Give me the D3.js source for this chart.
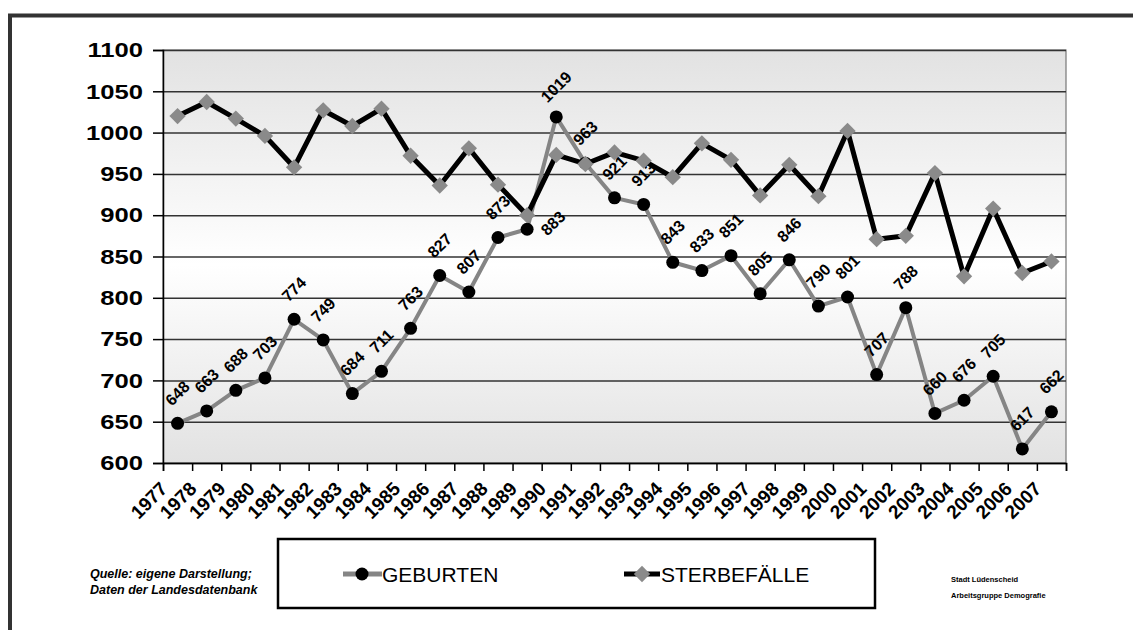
<!DOCTYPE html>
<html>
<head>
<meta charset="utf-8">
<script src="https://cdn.jsdelivr.net/npm/d3@7"></script>
<style>
  html, body { margin: 0; padding: 0; background: #fff; }
  svg { display: block; font-family: "Liberation Sans", Arial, sans-serif; }
</style>
</head>
<body>
<svg id="chart" width="1133" height="630"></svg>
<script>
// ---- data ----
const years = ["1977","1978","1979","1980","1981","1982","1983","1984","1985","1986","1987","1988","1989","1990","1991","1992","1993","1994","1995","1996","1997","1998","1999","2000","2001","2002","2003","2004","2005","2006","2007"];
const geburten = [648,663,688,703,774,749,684,711,763,827,807,873,883,1019,963,921,913,843,833,851,805,846,790,801,707,788,660,676,705,617,662];
const sterbefaelle = [1020,1037,1017,996,958,1027,1008,1029,972,936,981,937,900,973,962,976,966,946,987,967,924,961,923,1002,871,875,951,826,908,830,844];
const yTicks = [600,650,700,750,800,850,900,950,1000,1050,1100];
const seriesNames = ["GEBURTEN","STERBEFÄLLE"];
const sourceLines = ["Quelle: eigene Darstellung;","Daten der Landesdatenbank"];
const authorLines = ["Stadt Lüdenscheid","Arbeitsgruppe Demografie"];

// ---- layout ----
const svg = d3.select("#chart");
const L = 163, R = 1066, T = 50, B = 463;

// outer frame
svg.append("path").attr("d", "M10,640 L10,15.5 L1140,15.5")
  .attr("fill","none").attr("stroke","#333").attr("stroke-width",4);

const defs = svg.append("defs");
const grad = defs.append("linearGradient").attr("id","bg").attr("x1",0).attr("y1",0).attr("x2",0).attr("y2",1);
grad.append("stop").attr("offset","0%").attr("stop-color","#e2e2e2");
grad.append("stop").attr("offset","52%").attr("stop-color","#ffffff");
grad.append("stop").attr("offset","100%").attr("stop-color","#e2e2e2");

const x = d3.scaleBand().domain(years).range([L, R]);
const bw = x.bandwidth();
const cx = d => x(d) + bw / 2;
const y = d3.scaleLinear().domain([600, 1100]).range([B, T]);
const xb = d3.scaleLinear().domain([0, years.length]).range([L, R]);

svg.append("rect").attr("x", L).attr("y", T).attr("width", R - L).attr("height", B - T)
  .attr("fill", "url(#bg)").attr("stroke", "#777").attr("stroke-width", 1.2);

// gridlines
const grid = svg.append("g").attr("transform", `translate(${L},0)`)
  .call(d3.axisLeft(y).tickValues(yTicks).tickSize(-(R - L)).tickFormat(""));
grid.select(".domain").remove();
grid.selectAll("line").attr("stroke", "#333").attr("stroke-width", 1.5);

// y axis
const yAxis = svg.append("g").attr("transform", `translate(${L},0)`)
  .call(d3.axisLeft(y).tickValues(yTicks).tickSize(10).tickPadding(10).tickFormat(d3.format("d")));
yAxis.select(".domain").attr("stroke", "#000").attr("stroke-width", 1.5);
yAxis.selectAll("line").attr("stroke", "#000").attr("stroke-width", 1.5);
yAxis.selectAll("text").attr("font-size", 21).attr("font-weight", "bold").attr("fill", "#000")
  .attr("font-family", "'Liberation Sans', Arial, sans-serif")
  .attr("x", -20 / 1.22).attr("transform", "scale(1.22,1)");

// x axis (ticks at category boundaries)
const xAxis = svg.append("g").attr("transform", `translate(0,${B})`)
  .call(d3.axisBottom(xb).tickValues(d3.range(years.length + 1)).tickSize(8).tickFormat(""));
xAxis.select(".domain").attr("stroke", "#000").attr("stroke-width", 1.5);
xAxis.selectAll("line").attr("stroke", "#000").attr("stroke-width", 1.5);

svg.append("g").selectAll("text").data(years).join("text")
  .attr("transform", d => `translate(${cx(d) - 9},${B + 27}) rotate(-45)`)
  .attr("text-anchor", "end")
  .attr("font-size", 19).attr("font-weight", "bold").attr("fill", "#000")
  .text(d => d);

// GEBURTEN series
const line = d3.line().x((d, i) => cx(years[i])).y(d => y(d));
svg.append("path").datum(geburten).attr("d", line)
  .attr("fill", "none").attr("stroke", "#858585").attr("stroke-width", 4).attr("stroke-linejoin", "round");
svg.append("g").selectAll("circle").data(geburten).join("circle")
  .attr("cx", (d, i) => cx(years[i])).attr("cy", d => y(d)).attr("r", 6.5).attr("fill", "#000");

// data labels
const labelOffset = (i) => years[i] === "1989" ? [26, -6] : [0, -30];
svg.append("g").selectAll("text").data(geburten).join("text")
  .attr("transform", (d, i) => {
    const [dx, dy] = labelOffset(i);
    return `translate(${cx(years[i]) + dx},${y(d) + dy}) rotate(-45)`;
  })
  .attr("text-anchor", "middle").attr("dominant-baseline", "central")
  .attr("font-size", 16).attr("font-weight", "bold").attr("fill", "#000")
  .text(d => d);

// STERBEFÄLLE series
svg.append("path").datum(sterbefaelle).attr("d", line)
  .attr("fill", "none").attr("stroke", "#000").attr("stroke-width", 5).attr("stroke-linejoin", "round");
const diamond = d3.symbol().type(d3.symbolDiamond2).size(170);
svg.append("g").selectAll("path").data(sterbefaelle).join("path")
  .attr("transform", (d, i) => `translate(${cx(years[i])},${y(d)})`)
  .attr("d", diamond).attr("fill", "#8a8a8a");

// legend
const lg = svg.append("g");
lg.append("rect").attr("x", 278).attr("y", 539).attr("width", 597).attr("height", 69)
  .attr("fill", "#fff").attr("stroke", "#000").attr("stroke-width", 2.5);
// item 1
lg.append("line").attr("x1", 343).attr("x2", 382).attr("y1", 574).attr("y2", 574)
  .attr("stroke", "#858585").attr("stroke-width", 5);
lg.append("circle").attr("cx", 362).attr("cy", 574).attr("r", 6.5).attr("fill", "#000");
lg.append("text").attr("x", 382).attr("y", 574).attr("dominant-baseline", "central")
  .attr("font-size", 21).attr("fill", "#000").text(seriesNames[0]);
// item 2
lg.append("line").attr("x1", 624).attr("x2", 660).attr("y1", 574).attr("y2", 574)
  .attr("stroke", "#000").attr("stroke-width", 5);
lg.append("path").attr("transform", "translate(642,574)").attr("d", diamond).attr("fill", "#8a8a8a");
lg.append("text").attr("x", 661).attr("y", 574).attr("dominant-baseline", "central")
  .attr("font-size", 21).attr("fill", "#000").text(seriesNames[1]);

// source note
svg.append("g").selectAll("text").data(sourceLines).join("text")
  .attr("x", 90).attr("y", (d, i) => 578 + i * 16)
  .attr("font-size", 12.5).attr("font-weight", "bold").attr("font-style", "italic").attr("fill", "#000")
  .text(d => d);

// author note
svg.append("g").selectAll("text").data(authorLines).join("text")
  .attr("x", 951).attr("y", (d, i) => 582 + i * 16)
  .attr("font-size", 7.5).attr("font-weight", "bold").attr("fill", "#000")
  .text(d => d);
</script>
</body>
</html>
